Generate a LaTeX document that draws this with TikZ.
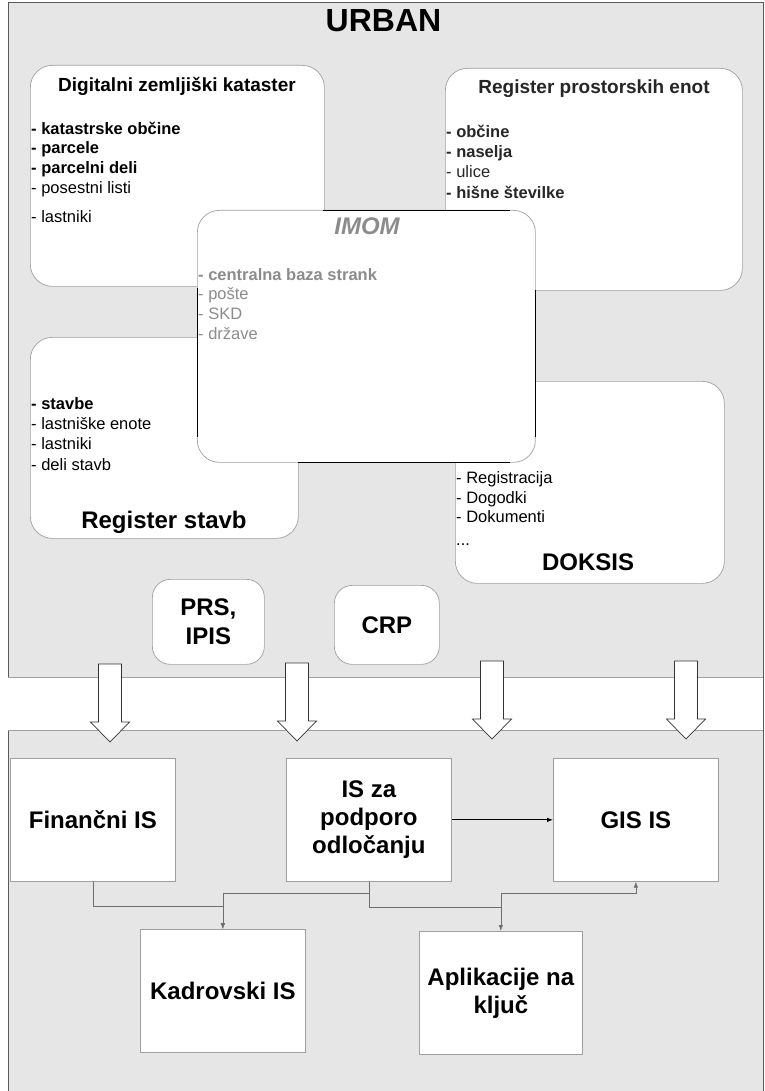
\documentclass[tikz,border=0pt]{standalone}
\usepackage{fontspec}
\setmainfont{Liberation Sans}
\usetikzlibrary{arrows.meta,calc}
\definecolor{bg}{HTML}{E6E6E6}
\definecolor{boxgray}{HTML}{A0A0A0}
\definecolor{imomgray}{HTML}{8C8C8C}
\definecolor{darktext}{HTML}{262626}
\definecolor{framecol}{HTML}{5A5A5A}
\definecolor{linegray}{HTML}{6E6E6E}
\begin{document}
\begin{tikzpicture}[x=1pt,y=-1pt,
  rbox/.style={draw=boxgray, fill=white, rounded corners=22pt, line width=0.7pt, anchor=north west, inner sep=0pt},
  pbox/.style={draw=boxgray, fill=white, rounded corners=18pt, line width=0.7pt, anchor=north west, inner sep=0pt, align=center, font=\bfseries\fontsize{24}{29}\selectfont},
  sbox/.style={draw=boxgray, fill=white, line width=0.7pt, anchor=north west, inner sep=0pt, align=center, font=\bfseries\fontsize{24}{28}\selectfont},
  item/.style={anchor=base west, inner sep=0pt, font=\fontsize{16.5}{19}\selectfont},
  bitem/.style={anchor=base west, inner sep=0pt, font=\bfseries\fontsize{16.5}{19}\selectfont},
  subttl/.style={anchor=base, inner sep=0pt, font=\bfseries\fontsize{19}{22}\selectfont},
  ttl/.style={anchor=base, inner sep=0pt, font=\bfseries\fontsize{24}{28}\selectfont},
  conn/.style={draw=linegray, line width=0.7pt, -{Latex[length=6pt,width=4.5pt]}},
  blockarrow/.pic={\draw[fill=white, draw=black!80, line width=0.7pt]
     (-11.5,0) -- (11.5,0) -- (11.5,58) -- (19.5,58) -- (0,78) -- (-19.5,58) -- (-11.5,58) -- cycle;}
]
\useasboundingbox (0,0) rectangle (764,1091);
% background frame
\fill[bg] (8,3) rectangle (764,1091);
\draw[framecol, line width=1pt] (8,1091) -- (8,3) -- (763,3) -- (763,1091);
% white band
\fill[white] (8,677) rectangle (763,730);
\draw[boxgray, line width=0.7pt] (8,677) -- (763,677) (8,730) -- (763,730);

\node[ttl, font=\bfseries\fontsize{32}{36}\selectfont] (urban) at (383.5,32) {URBAN};

% Digitalni zemljiski kataster
\node[rbox, minimum width=294pt, minimum height=221pt] (kat) at (30,65) {};
\node[subttl] (katt) at (177,92) {Digitalni zemljiški kataster};
\node[bitem] (k1) at (31,135) {- katastrske občine};
\node[bitem] (k2) at (31,154) {- parcele};
\node[bitem] (k3) at (31,174) {- parcelni deli};
\node[item] (k4) at (31,194) {- posestni listi};
\node[item] (k5) at (31,223) {- lastniki};

% Register prostorskih enot
\node[rbox, minimum width=297pt, minimum height=222pt] (rpe) at (445,68) {};
\node[subttl, text=darktext] (rpet) at (594,94) {Register prostorskih enot};
\node[bitem, text=darktext] (r1) at (446,138) {- občine};
\node[bitem, text=darktext] (r2) at (446,158) {- naselja};
\node[item, text=darktext] (r3) at (446,178) {- ulice};
\node[bitem, text=darktext] (r4) at (446,199) {- hišne številke};

% Register stavb
\node[rbox, minimum width=268pt, minimum height=201pt] (rst) at (30,337) {};
\node[bitem] (s1) at (31,409) {- stavbe};
\node[item] (s2) at (31,429) {- lastniške enote};
\node[item] (s3) at (31,449) {- lastniki};
\node[item] (s4) at (31,470) {- deli stavb};
\node[ttl] (rstt) at (164,528) {Register stavb};

% DOKSIS
\node[rbox, minimum width=269pt, minimum height=202pt] (dok) at (455,381) {};
\node[item] (d1) at (456,483) {- Registracija};
\node[item] (d2) at (456,503) {- Dogodki};
\node[item] (d3) at (456,522) {- Dokumenti};
\node[item] (d4) at (456,545) {...};
\node[ttl] (dokt) at (588,570) {DOKSIS};

% IMOM
\node[rbox, minimum width=338pt, minimum height=252pt] (imom) at (197,210) {};
\draw[black, line width=0.9pt]
  ($(imom.north west)+(126,0)$) -- ($(imom.north west)+(313,0)$)
  ($(imom.north west)+(0,78)$) -- ($(imom.north west)+(0,227)$)
  ($(imom.north east)+(0,80)$) -- ($(imom.north east)+(0,227)$)
  ($(imom.south west)+(101,0)$) -- ($(imom.south west)+(313,0)$);
\node[ttl, text=imomgray, font=\bfseries\itshape\fontsize{24}{28}\selectfont] (imomt) at (367,235) {IMOM};
\node[bitem, text=imomgray] (m1) at (198,280) {- centralna baza strank};
\node[item, text=imomgray] (m2) at (198,299) {- pošte};
\node[item, text=imomgray] (m3) at (198,319) {- SKD};
\node[item, text=imomgray] (m4) at (198,339) {- države};

% PRS, CRP
\node[pbox, minimum width=112pt, minimum height=85pt] (prs) at (152,579) {PRS,\\IPIS};
\node[pbox, minimum width=105pt, minimum height=79pt] (crp) at (334,585) {CRP};

% block arrows
\pic at (110,664) {blockarrow};
\pic at (297,663) {blockarrow};
\pic at (492,661) {blockarrow};
\pic at (686,661) {blockarrow};

% lower boxes
\node[sbox, minimum width=165pt, minimum height=123pt] (fin) at (10,758) {Finančni IS};
\node[sbox, minimum width=165pt, minimum height=123pt] (isp) at (286,758) {IS za\\podporo\\odločanju};
\node[sbox, minimum width=165pt, minimum height=123pt] (gis) at (553,758) {GIS IS};
\node[sbox, minimum width=165pt, minimum height=123pt] (kad) at (140,929) {Kadrovski IS};
\node[sbox, minimum width=163pt, minimum height=123pt] (apl) at (419,931) {Aplikacije na\\ključ};

% connectors
\draw[black, line width=0.8pt, -{Latex[length=6pt,width=4.5pt]}] (isp.east) -- (gis.west);
\draw[conn] (fin.south) -- ++(0,25) -| (kad.north);
\draw[conn] (isp.south) -- ++(0,12) -| (kad.north);
\draw[conn] (isp.south) -- ++(0,26) -| (apl.north);
\coordinate (jn) at ($(apl.north)+(0,-24)$);
\draw[conn] (jn) -- ++(0,-14) -| (gis.south);
\end{tikzpicture}
\end{document}
